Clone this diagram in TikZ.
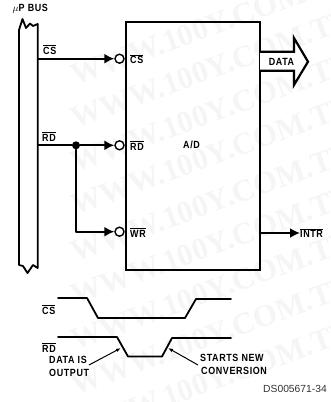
\documentclass[tikz,border=0pt]{standalone}
\usepackage{fontspec}
\setmainfont{Liberation Sans}
\newfontfamily\narrowbold[FakeStretch=0.86,LetterSpace=6]{Liberation Sans Bold}
\newfontfamily\wmfont{Liberation Serif Bold}
\usetikzlibrary{arrows.meta}
\newcommand{\ovl}[1]{$\overline{\hbox{#1}}$}
\tikzset{
  x=1pt,y=-1pt,
  wire/.style={line width=1.8pt,line cap=round,line join=round},
  thin wire/.style={line width=1pt},
  sig/.style={wire,-{Latex[length=10pt,width=10pt]}},
  lbl/.style={font=\narrowbold\fontsize{10.4}{11}\selectfont,inner sep=0pt,text=black},
  bubble/.style={circle,draw,line width=1.4pt,minimum size=9pt,inner sep=0pt,fill=white},
  dot/.style={circle,fill=black,minimum size=8pt,inner sep=0pt},
  wm/.style={font=\wmfont\fontsize{31}{31}\selectfont,text=black!4,rotate=20,inner sep=0pt},
}
\begin{document}
\begin{tikzpicture}
\useasboundingbox (0,0) rectangle (331,402);
% watermark
\foreach \yy [count=\i] in {24,67,111,154,201,244,289,334,379}
  \node[wm] (wm\i) at (216,\yy) {WWW.100Y.COM.TW};
% bus
\draw[wire,fill=white] (19,265) -- (19,30) -- (22.5,19) -- (26,28) -- (30,23.5) -- (33,26) -- (37.7,24) -- (37.7,268) -- (33,265) -- (27.5,273) -- (23,266) -- (19,265);
\node[lbl,anchor=west] (bus) at (12.5,9) {$\mu$P BUS};
% A/D box
\node[draw,line width=1.8pt,minimum width=134pt,minimum height=248pt,inner sep=0pt] (ad) at (193,146) {};
\node[lbl] (adl) at (191.5,145) {A/D};
% bubbles
\node[bubble] (bcs) at (119.5,58.7) {};
\node[bubble] (brd) at (119.5,145.3) {};
\node[bubble] (bwr) at (119.5,231.7) {};
\coordinate (bcsin) at (38,58.7);
\coordinate (brdin) at (38,145.3);
\node[dot] (j) at (76,145.3) {};
\coordinate (c) at (76,231.7);
\draw[sig] (bcsin) -- (bcs.west);
\draw[sig] (brdin) -- (j) -- (brd.west);
\draw[sig] (j) -- (c) -- (bwr.west);
\node[lbl,anchor=west] (t1) at (43,49.5) {\ovl{CS}};
\node[lbl,anchor=west] (t2) at (42,136.5) {\ovl{RD}};
\node[lbl,anchor=west] (t3) at (130,59) {\ovl{CS}};
\node[lbl,anchor=west] (t4) at (130,145.5) {\ovl{RD}};
\node[lbl,anchor=west] (t5) at (130,232.5) {\ovl{WR}};
% data arrow
\draw[line width=2.2pt,line join=miter,fill=white] (260,51.7) -- (294,51.7) -- (294,38) -- (308,61.7) -- (294,85) -- (294,70.7) -- (260,70.7);
\node[lbl] (data) at (281.5,62) {DATA};
% intr
\coordinate (o) at (260,233);
\node[lbl,anchor=west] (intr) at (300,233) {\ovl{INTR}};
\draw[sig] (o) -- (intr.west);
% waveforms
\draw[wire] (58,298) -- (87,298) -- (98,318) -- (185,318) -- (196,299) -- (231,299);
\draw[wire] (58,337) -- (117,337) -- (128,356.5) -- (162,356.5) -- (172,338) -- (231,338);
\node[lbl,anchor=west] (w6) at (42,309.5) {\ovl{CS}};
\node[lbl,anchor=west] (w7) at (42,347.5) {\ovl{RD}};
\node[lbl,anchor=west] (d1) at (49,360) {DATA IS};
\node[lbl,anchor=west] (d2) at (49,373) {OUTPUT};
\node[lbl,anchor=west] (d3) at (200,358) {STARTS NEW};
\node[lbl,anchor=west] (d4) at (201,371) {CONVERSION};
\coordinate (p1) at (121,348);
\coordinate (p2) at (168,348);
\draw[thin wire,-{Latex[length=5pt,width=3.5pt]}] (d1.east) ++(2,5) -- (p1);
\draw[thin wire,-{Latex[length=5pt,width=3.5pt]}] (d3.west) ++(-2,7) -- (p2);
\node[anchor=east,inner sep=0pt,font=\fontsize{10.3}{11}\selectfont,text=black!80] (ds) at (327,389) {DS005671-34};
\end{tikzpicture}
\end{document}
